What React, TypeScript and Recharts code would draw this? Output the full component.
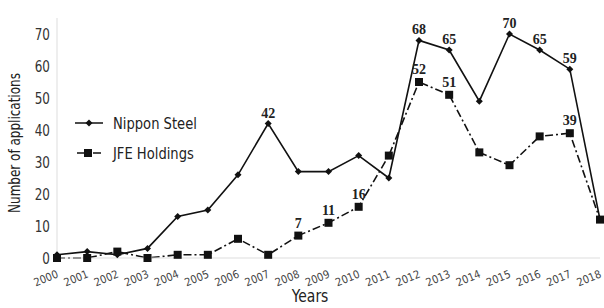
import { LineChart, Line, XAxis, YAxis, LabelList } from "recharts"

const years = ["2000", "2001", "2002", "2003", "2004", "2005", "2006", "2007", "2008", "2009",
    "2010", "2011", "2012", "2013", "2014", "2015", "2016", "2017", "2018"]
const nippon = [1, 2, 1, 3, 13, 15, 26, 42, 27, 27, 32, 25, 68, 65, 49, 70, 65, 59, 12]
const jfe = [0, 0, 2, 0, 1, 1, 6, 1, 7, 11, 16, 32, 55, 51, 33, 29, 38, 39, 12]
const nipponLabels = [null, null, null, null, null, null, null, 42, null, null, null, null, 68, 65, null, 70, 65, 59, null]
const jfeLabels = [null, null, null, null, null, null, null, null, 7, 11, 16, null, 52, 51, null, null, null, 39, null]
const yTicks = [0, 10, 20, 30, 40, 50, 60, 70]

const data = years.map((y, i) => ({
    year: y,
    nippon: nippon[i],
    jfe: jfe[i],
    nLabel: nipponLabels[i],
    jLabel: jfeLabels[i],
}))

if (typeof document !== "undefined") document.body.style.margin = "0"

const sans = "'DejaVu Sans', sans-serif"
const serif = "'Liberation Serif', 'DejaVu Serif', serif"

// narrow text: DejaVu squeezed horizontally to look like a condensed face
const Narrow = ({ x, y, size, sx = 0.8, rot = 0, anchor = "start", fill = "#222", children }: any) => (
    <text x={0} y={0} fontSize={size} fontFamily={sans} fill={fill} textAnchor={anchor}
        transform={`translate(${x},${y}) rotate(${rot}) scale(${sx},1)`}>
        {children}
    </text>
)

const Diamond = (props: any) => {
    const { cx, cy } = props
    if (cx == null || cy == null) return null
    return <path d={`M${cx},${cy - 3.5}L${cx + 3.5},${cy}L${cx},${cy + 3.5}L${cx - 3.5},${cy}Z`} fill="#111" />
}

const Square = (props: any) => {
    const { cx, cy } = props
    if (cx == null || cy == null) return null
    return <rect x={cx - 4} y={cy - 4} width={8} height={8} fill="#111" />
}

const XTick = (props: any) => {
    const { x, y, payload } = props
    return <Narrow x={x + 2} y={y + 19} size={11} sx={0.9} rot={-22} anchor="end" fill="#444">{payload.value}</Narrow>
}

const YTick = (props: any) => {
    const { x, y, payload } = props
    return <Narrow x={x} y={y + 5.5} size={15} anchor="end" fill="#333">{payload.value}</Narrow>
}

const makeLabel = (dx: number, dy: number) => (props: any) => {
    const { x, y, value } = props
    if (value == null) return null
    return (
        <text x={x + dx} y={y + dy} textAnchor="middle" fontSize={14} fontWeight="bold"
            fontFamily={serif} fill="#222">
            {value}
        </text>
    )
}

const YTitle = () => <Narrow x={20} y={143} size={15} rot={-90} anchor="middle">Number of applications</Narrow>
const XTitle = () => <Narrow x={310} y={302} size={17} sx={0.82} anchor="middle">Years</Narrow>

const LegendBox = () => (
    <svg width={150} height={60} style={{ position: "absolute", left: 73, top: 113 }}>
        <line x1={2} y1={10} x2={30} y2={10} stroke="#111" strokeWidth={1.5} />
        <Diamond cx={16} cy={10} />
        <Narrow x={40} y={16} size={16} sx={0.82}>Nippon Steel</Narrow>
        <line x1={4} y1={40} x2={28} y2={40} stroke="#111" strokeWidth={1.5} strokeDasharray="8 3 2 3" />
        <Square cx={15} cy={40} />
        <Narrow x={40} y={46} size={16} sx={0.82}>JFE Holdings</Narrow>
    </svg>
)

export default function App() {
    return (
        <div style={{ width: 604, height: 308, background: "#fff", position: "relative" }}>
            <LineChart width={604} height={308} data={data}
                margin={{ top: 18, right: 4, left: 0, bottom: 0 }}>
                <XAxis dataKey="year" tick={<XTick />} tickLine={false} tickSize={0} tickMargin={0}
                    height={50} axisLine={{ stroke: "#ddd" }} interval={0} label={<XTitle />} />
                <YAxis domain={[0, 75]} ticks={yTicks} width={57} tickLine={false} tickSize={0} tickMargin={7}
                    axisLine={{ stroke: "#ddd" }} interval={0} tick={<YTick />} label={<YTitle />} />
                <Line type="linear" dataKey="nippon" stroke="#111" strokeWidth={1.6}
                    dot={<Diamond />} isAnimationActive={false}>
                    <LabelList dataKey="nLabel" content={makeLabel(0, -6)} />
                </Line>
                <Line type="linear" dataKey="jfe" stroke="#111" strokeWidth={1.6} strokeDasharray="8 3 2 3"
                    dot={<Square />} isAnimationActive={false}>
                    <LabelList dataKey="jLabel" content={makeLabel(0, -8)} />
                </Line>
            </LineChart>
            <LegendBox />
        </div>
    )
}
